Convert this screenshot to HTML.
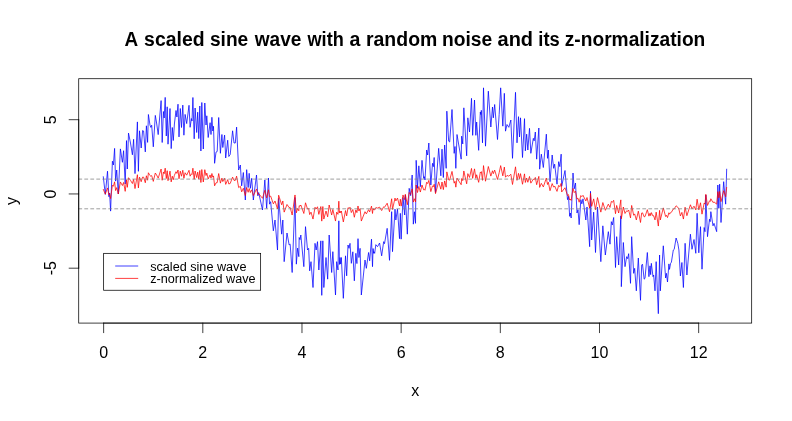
<!DOCTYPE html>
<html><head><meta charset="utf-8"><title>plot</title>
<style>
html,body{margin:0;padding:0;background:#fff;}
svg{display:block;}
text{font-family:"Liberation Sans",Arial,Helvetica,sans-serif;fill:#000;}
</style></head><body>
<svg width="792" height="421" viewBox="0 0 792 421">
<rect width="792" height="421" fill="#fff"/>
<text transform="translate(0,45.6) scale(1,1.03)" font-size="19.2" font-weight="bold"><tspan x="124.63" textLength="13.68" lengthAdjust="spacingAndGlyphs">A</tspan> <tspan x="144.13" textLength="60.43" lengthAdjust="spacingAndGlyphs">scaled</tspan> <tspan x="209.94" textLength="38.35" lengthAdjust="spacingAndGlyphs">sine</tspan> <tspan x="254.70" textLength="46.66" lengthAdjust="spacingAndGlyphs">wave</tspan> <tspan x="307.50" textLength="36.27" lengthAdjust="spacingAndGlyphs">with</tspan> <tspan x="349.46" textLength="10.90" lengthAdjust="spacingAndGlyphs">a</tspan> <tspan x="365.99" textLength="71.32" lengthAdjust="spacingAndGlyphs">random</tspan> <tspan x="442.00" textLength="50.22" lengthAdjust="spacingAndGlyphs">noise</tspan> <tspan x="497.55" textLength="35.52" lengthAdjust="spacingAndGlyphs">and</tspan> <tspan x="538.34" textLength="21.42" lengthAdjust="spacingAndGlyphs">its</tspan> <tspan x="564.75" textLength="140.57" lengthAdjust="spacingAndGlyphs">z-normalization</tspan></text>
<g fill="none" stroke-linejoin="round" stroke-linecap="round">
<polyline stroke="#0000ff" stroke-width="0.75" points="103.30,176.70 105.30,194.40 107.50,171.20 108.90,196.70 109.60,193.00 110.60,211.10 112.40,161.20 113.40,165.00 114.60,148.40 115.60,181.10 116.70,170.00 118.30,194.00 120.40,148.90 122.40,162.30 123.60,150.70 125.20,184.00 126.50,140.60 127.30,169.00 128.50,133.10 130.50,143.00 132.40,154.80 133.60,139.30 135.00,173.60 137.40,121.90 138.40,171.30 139.50,130.80 141.20,148.00 142.60,130.50 143.60,131.00 145.30,151.90 146.40,125.80 147.60,142.40 148.40,114.50 150.00,125.20 150.80,127.40 151.70,125.20 153.30,146.80 155.30,115.40 156.60,123.00 158.20,134.60 161.10,100.60 162.20,142.50 163.40,111.50 164.20,118.00 165.20,97.40 166.30,136.00 167.20,106.80 168.00,144.20 170.00,108.50 171.20,148.60 172.30,127.50 173.30,140.50 174.40,124.00 176.00,110.50 176.90,117.00 178.00,104.20 179.00,136.90 180.30,108.50 181.50,127.50 182.80,105.10 183.90,135.20 185.10,114.40 186.70,123.60 189.00,105.30 190.10,127.30 191.40,118.50 192.00,121.00 192.90,97.50 194.20,138.80 195.10,108.00 196.70,132.50 197.70,112.20 198.80,138.60 199.80,106.00 200.90,151.00 201.80,102.50 203.30,149.00 204.80,103.00 206.00,125.00 206.80,115.80 208.20,137.50 210.10,122.70 211.00,134.50 211.90,117.30 212.80,131.00 213.50,126.30 214.60,163.30 216.00,152.10 217.20,151.50 218.70,117.50 220.40,153.30 221.90,134.50 222.80,147.50 224.60,135.10 225.70,158.00 227.70,140.20 228.80,156.50 230.20,154.50 232.60,130.80 234.00,143.00 235.30,143.00 236.60,127.10 238.67,170.00 240.33,165.00 241.67,185.83 243.33,172.50 245.33,200.00 246.67,169.67 248.17,187.50 249.17,173.33 250.33,188.33 251.67,178.33 253.33,200.00 256.50,175.00 257.83,195.83 258.67,192.50 262.50,210.00 264.83,180.00 266.67,208.33 268.50,178.00 269.50,204.17 270.67,201.67 273.33,230.83 275.00,220.00 277.50,250.00 278.67,198.33 281.67,234.17 282.83,220.00 284.17,261.67 287.00,233.00 289.17,245.00 290.17,244.17 292.17,272.50 295.00,197.50 296.33,264.17 297.58,248.12 298.83,256.67 299.17,237.50 300.00,239.67 300.83,235.00 303.83,266.67 305.50,226.67 307.50,250.00 308.67,248.33 309.67,270.83 311.00,261.67 313.00,287.50 315.00,243.33 316.17,250.00 317.50,241.67 318.83,270.00 320.83,240.83 321.75,295.33 322.83,240.83 323.83,287.50 326.00,257.50 327.67,279.17 329.17,235.00 331.67,272.50 332.83,251.67 335.50,295.00 336.67,261.67 338.00,270.00 338.83,220.83 339.42,264.45 340.00,257.50 340.67,264.08 341.33,257.50 343.33,298.33 345.50,255.83 346.67,275.83 348.00,245.00 349.00,248.33 350.00,243.33 351.33,263.33 352.83,251.79 354.33,280.83 355.83,253.33 356.92,263.58 358.00,238.67 358.92,257.50 360.08,248.33 361.33,295.00 365.00,260.00 366.33,268.33 368.58,252.50 369.67,260.83 371.50,239.17 372.50,266.67 373.08,248.54 373.67,253.33 373.92,251.67 374.67,253.33 375.83,244.67 377.50,246.67 379.58,243.00 381.67,255.83 383.67,241.67 384.50,243.67 387.17,228.33 389.50,260.33 391.67,211.67 392.50,251.67 395.00,209.17 395.83,220.00 397.50,209.17 399.50,238.67 400.33,213.33 401.17,239.17 403.00,197.50 404.67,215.00 405.33,195.00 407.33,234.17 409.17,188.33 410.67,195.63 412.17,175.00 413.33,224.17 414.42,211.76 415.50,223.33 416.17,160.33 417.50,188.33 418.83,165.83 420.33,186.67 422.00,160.33 423.67,178.33 424.33,176.67 425.00,180.00 426.67,150.00 427.67,155.00 428.83,143.00 430.83,185.00 432.50,163.33 433.33,166.67 434.17,157.50 435.50,192.50 438.67,148.33 440.83,175.83 442.00,149.17 443.33,177.50 444.67,145.00 446.17,168.33 446.83,111.17 448.67,141.17 449.67,142.00 452.00,109.50 454.17,153.33 455.00,146.53 455.83,168.33 457.00,134.50 461.17,159.17 461.67,136.17 462.75,143.94 463.83,107.83 466.67,155.83 467.83,117.83 469.50,132.00 471.50,98.33 472.67,135.33 474.50,100.00 475.83,135.33 476.67,122.00 478.67,150.33 480.33,112.00 480.83,114.50 481.33,110.33 482.50,142.83 483.50,87.83 485.50,146.17 488.33,91.17 490.83,127.00 492.50,107.00 493.33,117.83 494.67,104.50 497.50,139.50 499.17,114.50 500.67,87.83 502.83,126.17 504.33,93.33 505.50,131.17 507.00,124.50 508.83,127.33 510.83,120.00 512.50,158.33 515.50,92.33 517.00,142.83 518.50,116.67 519.50,137.00 520.50,117.83 522.50,157.50 524.50,118.67 525.33,150.83 526.67,134.17 527.83,150.00 529.50,128.33 530.83,153.33 533.33,138.33 534.17,140.83 535.33,132.00 536.67,159.17 538.83,128.00 539.67,169.17 541.33,154.17 543.33,167.50 546.33,134.17 547.50,158.33 548.33,150.00 550.00,181.67 552.17,155.00 553.67,168.33 554.67,164.17 557.00,184.17 558.67,161.67 559.83,166.67 561.17,154.17 561.67,186.33 565.00,170.50 567.50,199.67 568.50,196.33 569.67,216.33 570.33,213.00 571.17,218.00 573.00,173.00 574.17,188.83 575.50,183.00 577.00,213.00 578.00,209.67 579.17,224.67 580.83,199.67 581.83,203.83 583.00,198.83 585.83,220.00 587.00,207.00 589.67,246.67 590.50,191.33 591.67,240.00 593.67,212.17 595.50,252.50 597.50,207.17 600.83,261.67 602.83,225.83 605.33,255.00 608.33,231.67 610.00,244.17 611.33,221.67 612.33,225.00 613.67,217.50 615.50,267.50 616.67,236.67 618.67,265.00 620.83,215.83 621.33,286.67 623.33,242.50 625.00,266.67 626.67,256.67 627.67,258.67 628.67,253.67 630.50,283.33 631.67,236.67 633.67,273.33 634.67,268.33 636.33,290.83 638.33,258.00 640.50,300.33 641.67,265.00 642.50,264.17 644.17,279.17 645.00,278.33 647.33,252.50 648.92,276.67 650.00,265.83 650.67,274.65 651.33,263.33 653.00,276.67 653.67,275.00 655.00,290.83 656.17,261.67 658.33,313.67 659.58,255.00 660.33,290.83 663.30,245.80 665.60,278.00 666.40,273.30 667.50,282.00 668.90,263.90 669.50,269.40 670.60,263.30 671.40,262.20 673.30,250.00 674.20,249.40 676.10,238.00 677.80,243.30 678.90,250.00 680.40,276.00 681.90,262.50 683.40,287.50 685.10,243.30 686.90,275.00 690.40,234.20 692.00,249.30 694.00,239.50 695.80,253.30 697.10,213.30 698.80,252.80 700.50,226.70 702.00,269.20 704.17,227.50 705.00,231.67 705.83,195.00 707.50,236.67 709.50,219.17 710.17,221.67 710.83,211.67 713.00,225.83 714.00,223.33 716.67,231.67 717.83,185.00 718.83,208.33 719.67,184.17 721.00,222.50 723.67,181.67 725.67,204.17 726.67,169.17"/>
<polyline stroke="#ff0000" stroke-width="0.75" points="103.30,189.40 105.30,194.13 107.50,187.93 108.90,194.75 109.60,193.76 110.60,198.60 112.40,185.25 113.40,186.27 114.60,181.83 115.60,190.58 116.70,187.60 118.30,194.03 120.40,181.96 122.40,185.54 123.60,182.44 125.20,191.35 126.50,179.74 127.30,187.34 128.50,177.73 130.50,180.38 132.40,183.54 133.60,179.39 135.00,188.57 137.40,174.73 138.40,187.95 139.50,177.12 141.20,181.72 142.60,177.04 143.60,177.17 145.30,182.76 146.40,175.78 147.60,180.22 148.40,172.75 150.00,175.62 150.80,176.21 151.70,175.62 153.30,181.40 155.30,173.00 156.60,175.03 158.20,178.13 161.10,169.03 162.20,180.25 163.40,171.95 164.20,173.69 165.20,168.18 166.30,178.51 167.20,170.69 168.00,180.70 170.00,171.15 171.20,181.88 172.30,176.23 173.30,179.71 174.40,175.30 176.00,171.68 176.90,173.42 178.00,170.00 179.00,178.75 180.30,171.15 181.50,176.23 182.80,170.24 183.90,178.29 185.10,172.73 186.70,175.19 189.00,170.29 190.10,176.18 191.40,173.82 192.00,174.49 192.90,168.21 194.20,179.26 195.10,171.02 196.70,177.57 197.70,172.14 198.80,179.20 199.80,170.48 200.90,182.52 201.80,169.54 203.30,181.99 204.80,169.68 206.00,175.56 206.80,173.10 208.20,178.91 210.10,174.95 211.00,178.11 211.90,173.50 212.80,177.17 213.50,175.91 214.60,185.81 216.00,182.82 217.20,182.65 218.70,173.56 220.40,183.14 221.90,178.11 222.80,181.58 224.60,178.27 225.70,184.39 227.70,179.63 228.80,183.99 230.20,183.46 232.60,177.12 234.00,180.38 235.30,180.38 236.60,176.13 238.67,187.60 240.33,186.27 241.67,191.84 243.33,188.27 245.33,195.63 246.67,187.52 248.17,192.29 249.17,188.50 250.33,192.51 251.67,189.83 253.33,195.63 256.50,188.94 257.83,194.52 258.67,193.63 262.50,198.31 264.83,190.28 266.67,197.86 268.50,189.75 269.50,196.75 270.67,196.08 273.33,203.88 275.00,200.98 277.50,209.01 278.67,195.19 281.67,204.77 282.83,200.98 284.17,212.13 287.00,204.46 289.17,207.67 290.17,207.45 292.17,215.03 295.00,194.96 296.33,212.80 297.58,208.51 298.83,210.80 299.17,205.67 300.00,206.25 300.83,205.00 303.83,213.47 305.50,202.77 307.50,209.01 308.67,208.57 309.67,214.59 311.00,212.13 313.00,219.05 315.00,207.23 316.17,209.01 317.50,206.78 318.83,214.36 320.83,206.56 321.75,221.14 322.83,206.56 323.83,219.05 326.00,211.02 327.67,216.82 329.17,205.00 331.67,215.03 332.83,209.46 335.50,221.05 336.67,212.13 338.00,214.36 338.83,201.21 339.42,212.88 340.00,211.02 340.67,212.78 341.33,211.02 343.33,221.94 345.50,210.57 346.67,215.92 348.00,207.67 349.00,208.57 350.00,207.23 351.33,212.58 352.83,209.49 354.33,217.26 355.83,209.90 356.92,212.64 358.00,205.98 358.92,211.02 360.08,208.57 361.33,221.05 365.00,211.69 366.33,213.92 368.58,209.68 369.67,211.91 371.50,206.11 372.50,213.47 373.08,208.62 373.67,209.90 373.92,209.46 374.67,209.90 375.83,207.58 377.50,208.12 379.58,207.14 381.67,210.57 383.67,206.78 384.50,207.32 387.17,203.21 389.50,211.78 391.67,198.75 392.50,209.46 395.00,198.09 395.83,200.98 397.50,198.09 399.50,205.98 400.33,199.20 401.17,206.11 403.00,194.96 404.67,199.65 405.33,194.29 407.33,204.77 409.17,192.51 410.67,194.46 412.17,188.94 413.33,202.10 414.42,198.78 415.50,201.88 416.17,185.02 417.50,192.51 418.83,186.49 420.33,192.06 422.00,185.02 423.67,189.83 424.33,189.39 425.00,190.28 426.67,182.25 427.67,183.59 428.83,180.38 430.83,191.62 432.50,185.82 433.33,186.71 434.17,184.26 435.50,193.63 438.67,181.81 440.83,189.17 442.00,182.03 443.33,189.61 444.67,180.92 446.17,187.16 446.83,171.86 448.67,179.89 449.67,180.11 452.00,171.42 454.17,183.15 455.00,181.33 455.83,187.16 457.00,178.11 461.17,184.71 461.67,178.55 462.75,180.63 463.83,170.97 466.67,183.81 467.83,173.65 469.50,177.44 471.50,168.43 472.67,178.33 474.50,168.87 475.83,178.33 476.67,174.76 478.67,182.34 480.33,172.09 480.83,172.75 481.33,171.64 482.50,180.34 483.50,165.62 485.50,181.23 488.33,166.51 490.83,176.10 492.50,170.75 493.33,173.65 494.67,170.08 497.50,179.44 499.17,172.75 500.67,165.62 502.83,175.88 504.33,167.09 505.50,177.21 507.00,175.43 508.83,176.19 510.83,174.23 512.50,184.48 515.50,166.82 517.00,180.34 518.50,173.33 519.50,178.77 520.50,173.65 522.50,184.26 524.50,173.87 525.33,182.48 526.67,178.02 527.83,182.25 529.50,176.46 530.83,183.15 533.33,179.13 534.17,179.80 535.33,177.44 536.67,184.71 538.83,176.37 539.67,187.38 541.33,183.37 543.33,186.94 546.33,178.02 547.50,184.48 548.33,182.25 550.00,190.73 552.17,183.59 553.67,187.16 554.67,186.04 557.00,191.40 558.67,185.38 559.83,186.71 561.17,183.37 561.67,191.98 565.00,187.74 567.50,195.54 568.50,194.65 569.67,200.00 570.33,199.11 571.17,200.45 573.00,188.41 574.17,192.64 575.50,191.08 577.00,199.11 578.00,198.22 579.17,202.23 580.83,195.54 581.83,196.66 583.00,195.32 585.83,200.98 587.00,197.51 589.67,208.12 590.50,193.31 591.67,206.34 593.67,198.89 595.50,209.68 597.50,197.55 600.83,212.13 602.83,202.54 605.33,210.35 608.33,204.11 610.00,207.45 611.33,201.43 612.33,202.32 613.67,200.31 615.50,213.69 616.67,205.44 618.67,213.02 620.83,199.87 621.33,218.82 623.33,207.00 625.00,213.47 626.67,210.80 627.67,211.33 628.67,209.99 630.50,217.93 631.67,205.44 633.67,215.25 634.67,213.92 636.33,219.94 638.33,211.15 640.50,222.48 641.67,213.02 642.50,212.80 644.17,216.82 645.00,216.59 647.33,209.68 648.92,216.15 650.00,213.25 650.67,215.61 651.33,212.58 653.00,216.15 653.67,215.70 655.00,219.94 656.17,212.13 658.33,226.05 659.58,210.35 660.33,219.94 663.30,207.89 665.60,216.50 666.40,215.25 667.50,217.57 668.90,212.73 669.50,214.20 670.60,212.57 671.40,212.28 673.30,209.01 674.20,208.85 676.10,205.80 677.80,207.22 678.90,209.01 680.40,215.97 681.90,212.36 683.40,219.05 685.10,207.22 686.90,215.70 690.40,204.78 692.00,208.82 694.00,206.20 695.80,209.89 697.10,199.19 698.80,209.76 700.50,202.78 702.00,214.15 704.17,202.99 705.00,204.11 705.83,194.29 707.50,205.44 709.50,200.76 710.17,201.43 710.83,198.75 713.00,202.54 714.00,201.88 716.67,204.11 717.83,191.62 718.83,197.86 719.67,191.40 721.00,201.65 723.67,190.73 725.67,196.75 726.67,187.38"/>
</g>
<g stroke="#7f7f7f" stroke-width="0.75" stroke-dasharray="3,3" stroke-linecap="round" fill="none">
<line x1="78.72" x2="751.68" y1="179.10" y2="179.10"/>
<line x1="78.72" x2="751.68" y1="208.80" y2="208.80"/>
</g>
<g stroke="#000" stroke-width="0.75" fill="none" stroke-linecap="round">
<rect x="78.72" y="78.72" width="672.96" height="244.36"/>
<path d="M103.64 323.08H698.66M103.64 323.08v9.6M202.81 323.08v9.6M301.98 323.08v9.6M401.15 323.08v9.6M500.32 323.08v9.6M599.49 323.08v9.6M698.66 323.08v9.6"/>
<path d="M78.72 268.20V119.70M78.72 268.20h-9.6M78.72 193.95h-9.6M78.72 119.70h-9.6"/>
</g>
<g font-size="16" text-anchor="middle">
<text x="103.64" y="357.8">0</text>
<text x="202.81" y="357.8">2</text>
<text x="301.98" y="357.8">4</text>
<text x="401.15" y="357.8">6</text>
<text x="500.32" y="357.8">8</text>
<text x="599.49" y="357.8">10</text>
<text x="698.66" y="357.8">12</text>
<text transform="translate(56.0,268.20) rotate(-90)">-5</text>
<text transform="translate(56.0,193.95) rotate(-90)">0</text>
<text transform="translate(56.0,119.70) rotate(-90)">5</text>
<text x="415.2" y="395.9">x</text>
<text transform="translate(17.3,200.90) rotate(-90)">y</text>
</g>
<rect x="103.64" y="253.35" width="157" height="36.9" fill="#fff" stroke="#000" stroke-width="0.75"/>
<line x1="115.2" x2="138.2" y1="266" y2="266" stroke="#0000ff" stroke-width="0.75"/>
<line x1="115.2" x2="138.2" y1="278.4" y2="278.4" stroke="#ff0000" stroke-width="0.75"/>
<g font-size="12.65">
<text x="150.2" y="270.5">scaled sine wave</text>
<text x="150.2" y="282.6">z-normalized wave</text>
</g>
</svg>
</body></html>
